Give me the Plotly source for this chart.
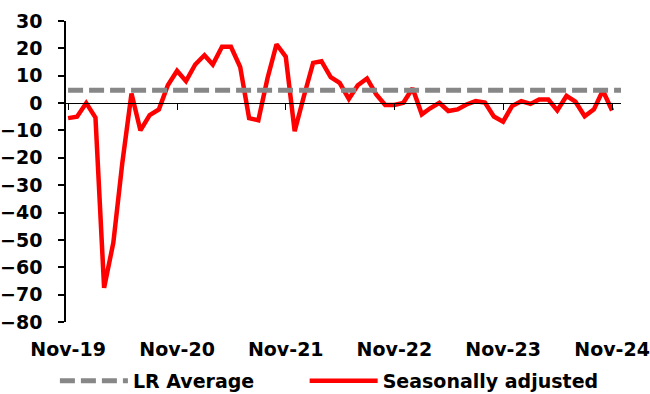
import pandas as pd
import plotly.graph_objects as go

# Monthly index, Nov-19 .. Dec-24
months = pd.date_range("2019-11-01", "2024-12-01", freq="MS")

# Seasonally adjusted balance (Nov-19 .. Nov-24)
seasonally_adjusted = [
    -5.5, -5.0, 0.0, -5.3, -67.5, -51.0, -22.0, 3.5, -10.0, -4.4,
    -2.3, 6.5, 11.8, 8.0, 14.1, 17.5, 14.1, 20.6, 20.6, 13.2,
    -5.5, -6.3, 9.2, 21.5, 17.0, -10.3, 2.5, 14.7, 15.3, 9.5,
    7.4, 1.5, 6.5, 9.0, 3.2, -0.7, -0.7, 0.1, 5.4, -4.1,
    -1.9, 0.1, -2.9, -2.3, -0.5, 0.7, 0.2, -4.9, -6.8, -1.1,
    0.7, -0.3, 1.3, 1.3, -2.7, 2.6, 0.5, -4.8, -2.3, 4.6,
    -2.7,
]

# Long-run average of the series
lr_average = [4.7] * len(months)

tick_dates = pd.date_range("2019-11-01", "2024-11-01", freq="12MS")
y_ticks = list(range(-80, 31, 10))

FONT = dict(family="DejaVu Sans", size=19, color="black", weight="bold")
x_range = ["2019-10-25", "2024-12-01"]

fig = go.Figure()
fig.add_trace(go.Scatter(
    x=months, y=lr_average, name="LR Average", mode="lines",
    line=dict(color="#878787", width=5, dash="15px,6px"),
    xaxis="x2", legend="legend",
))
fig.add_trace(go.Scatter(
    x=months[:len(seasonally_adjusted)], y=seasonally_adjusted,
    name="Seasonally adjusted", mode="lines",
    line=dict(color="#FF0000", width=4.5),
    legend="legend2",
))

legend_common = dict(
    orientation="h", xanchor="left", y=-0.196, yanchor="middle",
    font=FONT, itemwidth=68, bgcolor="rgba(0,0,0,0)",
)

fig.update_layout(
    width=650, height=394,
    margin=dict(l=66, r=29, t=21, b=72, autoexpand=False),
    paper_bgcolor="white", plot_bgcolor="white",
    font=FONT,
    showlegend=True,
    legend=dict(x=-0.020, **legend_common),
    legend2=dict(x=0.430, **legend_common),
    xaxis=dict(
        type="date", range=x_range, tickvals=tick_dates, tickformat="%b-%y",
        showline=False, ticks="", showgrid=False, zeroline=False,
        ticklabelstandoff=14, tickfont=FONT,
    ),
    xaxis2=dict(
        type="date", range=x_range, matches="x", overlaying="x",
        anchor="free", position=80 / 110, side="bottom",
        tickvals=tick_dates, showticklabels=False,
        showline=True, linecolor="black", linewidth=1,
        ticks="outside", ticklen=6, tickcolor="black", tickwidth=1,
        showgrid=False, zeroline=False,
    ),
    yaxis=dict(
        range=[-80, 30], tickvals=y_ticks, showgrid=False, zeroline=False,
        showline=True, linecolor="black", linewidth=1.5,
        ticks="outside", ticklen=6, tickcolor="black", tickwidth=1.5,
        ticklabelstandoff=12, tickfont=FONT,
    ),
)

fig.write_html("out.html")
